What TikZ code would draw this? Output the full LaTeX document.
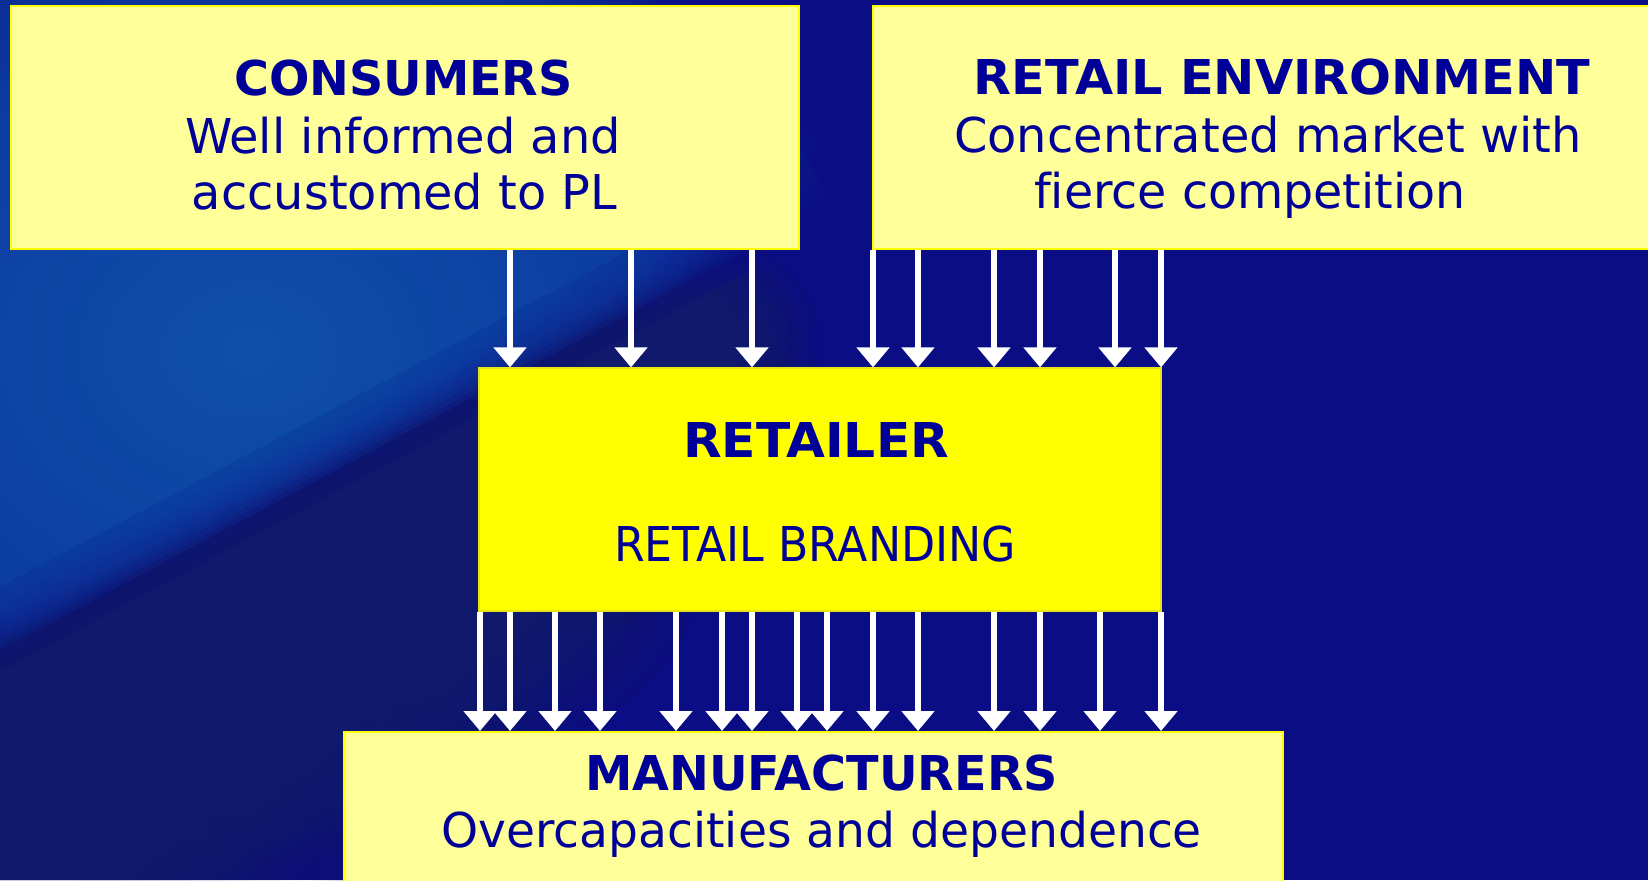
\documentclass[tikz,border=0pt]{standalone}
\usepackage{fontspec}
\setmainfont{DejaVu Sans}[Ligatures=NoCommon]
\usetikzlibrary{arrows.meta,fadings,fit}

\definecolor{navybg}{RGB}{11,13,133}
\definecolor{glowhi}{RGB}{14,80,170}
\definecolor{glowlo}{RGB}{11,48,156}
\definecolor{bandbg}{RGB}{17,26,108}
\definecolor{shadowbg}{RGB}{28,32,76}
\definecolor{paleyellow}{RGB}{255,255,153}
\definecolor{brightyellow}{RGB}{255,255,0}
\definecolor{inkblue}{RGB}{0,0,153}

% radial fading: opaque middle, soft rim
\pgfdeclareradialshading{plateaushade}{\pgfpoint{0bp}{0bp}}{%
  color(0bp)=(white); color(12bp)=(white); color(25bp)=(black); color(50bp)=(black)}
\pgfdeclarefading{plateau}{\pgfuseshading{plateaushade}}
% wider opaque middle, narrower rim
\pgfdeclareradialshading{rimshade}{\pgfpoint{0bp}{0bp}}{%
  color(0bp)=(white); color(16bp)=(white); color(25bp)=(black); color(50bp)=(black)}
\pgfdeclarefading{rimfade}{\pgfuseshading{rimshade}}
\tikzfading[name=softglow, inner color=transparent!0, outer color=transparent!100]

% set a line of text at a given width (pt), keeping its height
\newcommand\fitw[2]{\resizebox{#1pt}{\height}{#2}}

\begin{document}
\begin{tikzpicture}[x=0.5pt,y=-0.5pt,
  lightbox/.style={draw=brightyellow, line width=1pt, fill=paleyellow, inner sep=0pt},
  corebox/.style={draw=brightyellow!80!gray, line width=0.6pt, fill=brightyellow, inner sep=0pt},
  txt/.style={anchor=base, inner sep=0pt, text=inkblue, font=\fontsize{24}{28}\selectfont},
  headtxt/.style={txt, font=\fontsize{24}{28}\selectfont\bfseries},
  flow/.style={draw=white, line width=3pt, -{Triangle[width=16pt,length=10pt]}}]

\useasboundingbox (0,0) rectangle (1648,880);
\clip (0,0) rectangle (1648,880);

% ---- background ----
\fill[navybg] (0,0) rectangle (1648,880);

% dark diagonal band under the glow, its upper edge softened by stacked layers
\foreach \d/\op in {-10/0.25, 0/0.25, 10/0.25, 20/0.25, 30/0.25, 40/1} {
  \begin{scope}
    \clip (0,632+\d) -- (1000,97+\d) -- (1000,880) -- (0,880) -- cycle;
    \foreach \cx/\cy/\rx/\ry in {0/790/340/240, 190/680/330/220, 380/570/320/210, 550/450/280/180, 650/340/170/120}
      \fill[bandbg, path fading=plateau, opacity=0.9*\op] (\cx,\cy) ellipse [x radius=\rx, y radius=\ry];
  \end{scope}
}

% light-blue glow, its lower edge softened by stacked layers
\foreach \d/\op in {-45/1, -36/0.2, -30/0.2, -24/0.2, -18/0.2, -12/0.2, -6/0.2, 0/0.2, 6/0.2, 12/0.2, 18/0.2} {
  \begin{scope}
    \clip (0,0) -- (1000,0) -- (1000,97+\d) -- (0,632+\d) -- cycle;
    \shade[inner color=glowhi, outer color=glowlo, opacity=\op, path fading=rimfade]
      (250,350) ellipse [x radius=640, y radius=500];
  \end{scope}
}

% dark spot at the lower edge
\fill[shadowbg, path fading=softglow] (500,900) ellipse [x radius=200, y radius=140];

% ---- boxes ----
\node[lightbox, fit={(10.5,6.3) (799,249)}] (cons) {};
\node[lightbox, fit={(873,6.3) (1670,249)}] (env) {};
\node[corebox, fit={(479,368) (1161,611)}] (ret) {};
\node[lightbox, fit={(344,732) (1283,910)}] (man) {};

% ---- texts ----
\node[headtxt] (consT) at (403.5,95) {\fitw{169.4}{CONSUMERS}};
\node[txt] (consA) at (403,153) {\fitw{218}{Well informed and}};
\node[txt] (consB) at (404.5,209) {\fitw{212.5}{accustomed to PL}};

\node[headtxt] (envT) at (1282,94) {\fitw{308.5}{RETAIL ENVIRONMENT}};
\node[txt] (envA) at (1268,152) {\fitw{313.8}{Concentrated market with}};
\node[txt] (envB) at (1250,208) {\fitw{215.8}{fierce competition}};

\node[headtxt] (retT) at (816,457) {\fitw{133}{RETAILER}};
\node[txt] (retA) at (815,561) {\fitw{201}{RETAIL BRANDING}};

\node[headtxt] (manT) at (821.6,790) {\fitw{236.5}{MANUFACTURERS}};
\node[txt] (manA) at (821.6,847) {\fitw{380.3}{Overcapacities and dependence}};

% ---- arrows into the retailer ----
\foreach \n/\x in {1/510, 2/631, 3/752}
  \coordinate (c\n) at (\x,0);
\foreach \n/\x in {1/873, 2/918, 3/994, 4/1040, 5/1115, 6/1161}
  \coordinate (e\n) at (\x,0);
\foreach \n in {1,2,3}
  \draw[flow] (cons.south -| c\n) -- (ret.north -| c\n);
\foreach \n in {1,...,6}
  \draw[flow] (env.south -| e\n) -- (ret.north -| e\n);

% ---- arrows from the retailer to the manufacturers ----
\foreach \n/\x in {1/480, 2/510, 3/555, 4/600, 5/676, 6/722, 7/752, 8/797,
                   9/827, 10/873, 11/918, 12/994, 13/1040, 14/1100, 15/1161}
  \coordinate (m\n) at (\x,0);
\foreach \n in {1,...,15}
  \draw[flow] (ret.south -| m\n) -- (man.north -| m\n);

\end{tikzpicture}
\end{document}
